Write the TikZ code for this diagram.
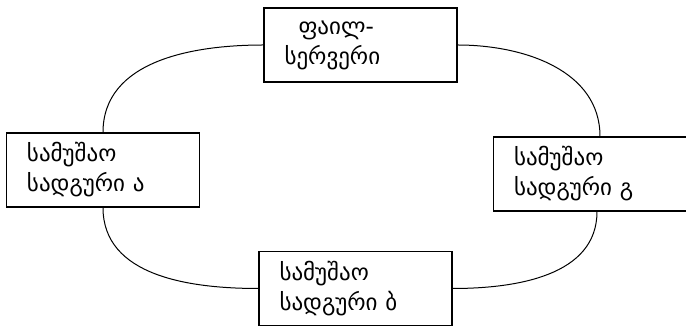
\documentclass[tikz,border=0pt]{standalone}
\usepackage{fontspec}
\setmainfont{DejaVu Sans}
\usetikzlibrary{calc}

\begin{document}
\begin{tikzpicture}[x=1pt,y=1pt,
  station/.style={draw=black,line width=1.2pt,rectangle,minimum width=193pt,minimum height=74pt,
    inner xsep=0pt,text width=152pt,align=left,font=\fontsize{23}{30}\selectfont},
  link/.style={draw=black,line width=1pt}]
\useasboundingbox (0,0) rectangle (686,326);
\node[station] (server) at (360.5,281) {\hspace*{14pt}ფაილ-\\სერვერი};
\node[station] (wsa) at (103,156) {სამუშაო\\სადგური ა};
\node[station] (wsg) at (590,152) {სამუშაო\\სადგური გ};
\node[station] (wsb) at (355.5,37.5) {სამუშაო\\სადგური ბ};
% ring
\draw[link] (server.west) to[out=180,in=90] (wsa.north);
\draw[link] (server.east) to[out=0,in=90] ([xshift=10pt]wsg.north);
\draw[link] (wsa.south) to[out=-90,in=180] (wsb.west);
\draw[link] ([xshift=7pt]wsg.south) to[out=-90,in=0] (wsb.east);
\end{tikzpicture}
\end{document}
